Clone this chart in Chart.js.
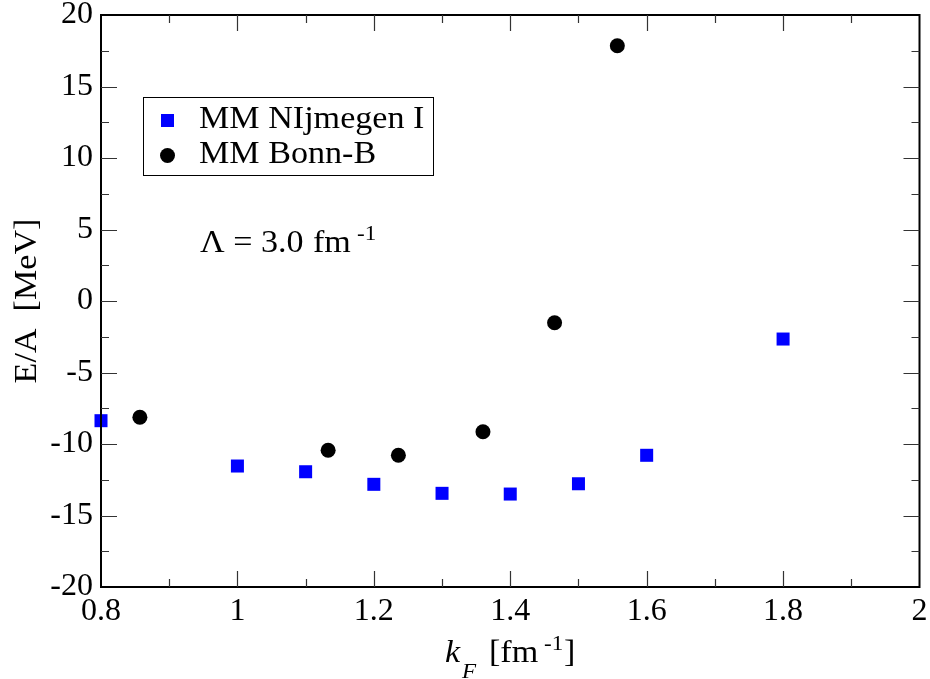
<!DOCTYPE html>
<html>
<head>
<meta charset="utf-8">
<script src="https://cdn.jsdelivr.net/npm/chart.js@4.4.1/dist/chart.umd.min.js"></script>
<style>
  html, body { margin: 0; padding: 0; background: #fff; }
  #wrap { width: 930px; height: 679px; }
</style>
</head>
<body>
<div id="wrap"><canvas id="eos"></canvas></div>
<script>
// E/A vs k_F, two potentials at cutoff 3.0 fm^-1
var nijKf = [0.8, 1.0, 1.1, 1.2, 1.3, 1.4, 1.5, 1.6, 1.8];
var nijE  = [-8.37, -11.54, -11.94, -12.82, -13.45, -13.5, -12.78, -10.79, -2.66];
var bonnKf = [0.857, 1.133, 1.236, 1.360, 1.465, 1.557];
var bonnE  = [-8.13, -10.44, -10.79, -9.14, -1.52, 17.85];
var seriesNames = ["MM NIjmegen I", "MM Bonn-B"];

var serif = "'Liberation Serif', 'Times New Roman', serif";
var STRETCH = 1.1;

function pts(xs, ys) {
    return xs.map(function (x, i) { return { x: x, y: ys[i] }; });
}

// text a bit wider than the stock face
function txt(ctx, s, x, y, size, italic) {
    ctx.save();
    ctx.translate(x, y);
    ctx.scale(STRETCH, 1);
    ctx.font = (italic ? 'italic ' : '') + size + 'px ' + serif;
    ctx.fillText(s, 0, 0);
    ctx.restore();
}

// inward ticks on all four sides + legend box + labels
var decor = {
    id: 'decor',
    afterDraw: function (chart) {
        var ctx = chart.ctx, a = chart.chartArea;
        var xs = chart.scales.x, ys = chart.scales.y;
        ctx.save();
        ctx.strokeStyle = '#000';
        ctx.lineWidth = 2;
        ctx.strokeRect(a.left, a.top, a.right - a.left, a.bottom - a.top);

        ctx.lineWidth = 1.2;
        ctx.strokeStyle = '#333';
        ctx.beginPath();
        for (var v = 0.8; v <= 2.0001; v += 0.1) {
            var px = Math.round(xs.getPixelForValue(v)) + 0.5;
            var major = Math.abs(Math.round(v * 10) % 2) === 0;
            var len = major ? 16 : 8;
            if (px <= a.left + 1 || px >= a.right - 1) continue;
            ctx.moveTo(px, a.bottom); ctx.lineTo(px, a.bottom - len);
            ctx.moveTo(px, a.top); ctx.lineTo(px, a.top + len);
        }
        for (var w = -20; w <= 20; w += 2.5) {
            var py = Math.round(ys.getPixelForValue(w)) + 0.5;
            var maj = (w % 5) === 0;
            var l2 = maj ? 16 : 8;
            if (py <= a.top + 1 || py >= a.bottom - 1) continue;
            ctx.moveTo(a.left, py); ctx.lineTo(a.left + l2, py);
            ctx.moveTo(a.right, py); ctx.lineTo(a.right - l2, py);
        }
        ctx.stroke();

        // legend
        ctx.strokeStyle = '#000';
        ctx.lineWidth = 1;
        ctx.strokeRect(143.5, 97.5, 290, 78);
        ctx.fillStyle = '#0000ff';
        ctx.fillRect(161, 114, 13, 13);
        ctx.fillStyle = '#000';
        ctx.beginPath();
        ctx.arc(167.5, 155.5, 7.5, 0, Math.PI * 2);
        ctx.fill();
        ctx.textAlign = 'left';
        ctx.textBaseline = 'alphabetic';
        txt(ctx, seriesNames[0], 199, 128, 31);
        txt(ctx, seriesNames[1], 199, 163, 31);

        // cutoff label
        txt(ctx, '\u039B = 3.0', 200, 252, 31);
        txt(ctx, 'fm', 313, 252, 31);
        txt(ctx, '-1', 357, 240, 21);

        // x title
        txt(ctx, 'k', 445, 662, 31, true);
        txt(ctx, 'F', 462, 678, 21, true);
        txt(ctx, '[fm', 489, 662, 31);
        txt(ctx, '-1', 544, 650, 21);
        txt(ctx, ']', 564, 662, 31);

        // y title
        ctx.translate(36, (a.top + a.bottom) / 2);
        ctx.rotate(-Math.PI / 2);
        ctx.textAlign = 'center';
        txt(ctx, 'E/A  [MeV]', 0, 0, 31);
        ctx.restore();
    }
};

new Chart(document.getElementById('eos'), {
    type: 'scatter',
    data: {
        datasets: [{
            label: seriesNames[0],
            data: pts(nijKf, nijE),
            pointStyle: 'rect',
            pointRadius: 9.2,
            backgroundColor: '#0000ff',
            borderColor: '#0000ff',
            borderWidth: 0
        }, {
            label: seriesNames[1],
            data: pts(bonnKf, bonnE),
            pointStyle: 'circle',
            pointRadius: 7.5,
            backgroundColor: '#000',
            borderColor: '#000',
            borderWidth: 0
        }]
    },
    options: {
        responsive: true,
        maintainAspectRatio: false,
        animation: false,
        clip: false,
        layout: { padding: { left: 0, top: 15, right: 10.5, bottom: 0 } },
        plugins: { legend: { display: false }, tooltip: { enabled: false } },
        scales: {
            x: {
                type: 'linear',
                min: 0.8, max: 2.0,
                afterFit: function (s) {
                    s.height = 92;
                    s.paddingLeft = 0; s.paddingRight = 0;
                },
                grid: { display: false, drawTicks: false },
                border: { display: false },
                ticks: {
                    stepSize: 0.2,
                    padding: 5,
                    color: '#000',
                    font: { family: serif, size: 32 },
                    callback: function (v) { return String(Number(v.toFixed(1))); }
                }
            },
            y: {
                min: -20, max: 20,
                afterFit: function (s) {
                    s.width = 101;
                    s.paddingTop = 0; s.paddingBottom = 0;
                },
                grid: { display: false, drawTicks: false },
                border: { display: false },
                ticks: {
                    stepSize: 5,
                    padding: 8,
                    color: '#000',
                    font: { family: serif, size: 32 }
                }
            }
        }
    },
    plugins: [decor]
});
</script>
</body>
</html>
